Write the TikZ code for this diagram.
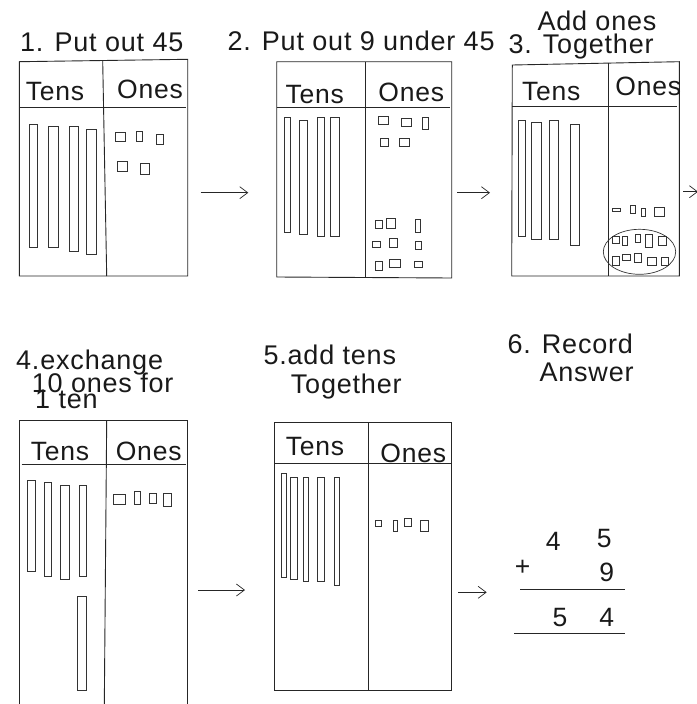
\documentclass[tikz,border=0pt]{standalone}
\usepackage{fontspec}
\setmainfont{Liberation Sans}[LetterSpace=3]
\usetikzlibrary{arrows.meta}

\begin{document}
\begin{tikzpicture}[x=1pt,y=-1pt,
  frame/.style={draw=black!85, line width=0.9pt},
  piece/.style={draw=black!80, line width=0.7pt},
  lbl/.style={font=\fontsize{27}{29}\selectfont, text=black!90, inner sep=0pt, anchor=base west},
  hdr/.style={font=\fontsize{26.5}{28}\selectfont, text=black!90, inner sep=0pt, anchor=base},
  conn/.style={draw=black!85, line width=0.7pt, -{Straight Barb[length=8pt,width=12pt,line width=0.7pt]}}]
\useasboundingbox (0,0) rectangle (696,704);

% ---------- 1. Put out 45 ----------
\node[lbl] (t1) at (20,51.7) {1. Put out 45};
\draw[frame] (19.3,61.7) -- (187.7,59.3) -- (187.7,276) -- (19.3,276) -- cycle;
\draw[frame] (102.7,61) -- (106.7,276);
\draw[frame] (19.3,107.3) -- (186,107.3);
\node[hdr] (h1t) at (55,100) {Tens};
\node[hdr] (h1o) at (150,98) {Ones};
\foreach \a/\b/\c/\d in {29.3/124.3/37.7/247.3, 48.7/126/58.3/247.3, 69/126/78/251.7, 86.3/129/96.3/254.3}
  \draw[piece] (\a,\b) rectangle (\c,\d);
\foreach \a/\b/\c/\d in {115.7/132.3/125/141.7, 136/131.7/142.3/141.7, 156.7/134/163.3/144.7,
                         117.3/161.7/127.3/171.7, 140/163.3/149/174}
  \draw[piece] (\a,\b) rectangle (\c,\d);

% ---------- 2. Put out 9 under 45 ----------
\node[lbl] (t2) at (227.3,50) {2. Put out 9 under 45};
\draw[frame] (276.7,61.7) -- (451.7,61.7) -- (451.7,278) -- (276.7,277) -- cycle;
\draw[frame] (365.7,61.7) -- (365.7,277.5);
\draw[frame] (276.7,107.3) -- (449.5,107.3);
\node[hdr] (h2t) at (314.7,103.3) {Tens};
\node[hdr] (h2o) at (411.3,101) {Ones};
\foreach \a/\b/\c/\d in {284/117.3/290.7/232.3, 299/120/307.7/234.3, 317.3/117.3/324/236.7, 330.7/117.3/339.3/236.7}
  \draw[piece] (\a,\b) rectangle (\c,\d);
\foreach \a/\b/\c/\d in {378.3/116/388.3/124, 401.7/118.3/411/126.7, 422.7/117.7/428.3/129.3,
                         380/138.3/388.3/146.7, 399.3/138.3/409.3/146.7,
                         375.7/220.7/382.3/228.3, 386.7/218.3/395/228.3, 415.7/219/420/232.3,
                         372.7/241/380/247.7, 389.3/238.3/397.3/247.7, 415.7/241/421.7/249.3,
                         375.7/261.7/382.3/270, 389/259/400/267.7, 414/261.7/422.3/267.3}
  \draw[piece] (\a,\b) rectangle (\c,\d);

% ---------- 3. Add ones Together ----------
\node[lbl] (t3a) at (537.3,30.7) {Add ones};
\node[lbl] (t3b) at (508.3,53.3) {3. Together};
\draw[frame] (512.3,65) -- (679.3,61.7) -- (679.3,276) -- (511.7,276) -- cycle;
\draw[frame] (608.3,62.5) -- (608.3,276);
\draw[frame] (512,106.7) -- (677,106.7);
\node[hdr] (h3t) at (551.3,100) {Tens};
\node[hdr] (h3o) at (648.3,95.7) {Ones};
\foreach \a/\b/\c/\d in {518.3/120/525/236.7, 531/122.3/541/239, 549.3/120/558.3/239, 570/124.3/579/245.7}
  \draw[piece] (\a,\b) rectangle (\c,\d);
\foreach \a/\b/\c/\d in {612.7/208.3/620.7/211.7, 630.7/205.7/635.7/213.3, 641/208.3/645.7/216, 654/207.7/664/216,
                         612.3/236.7/619/243.3, 622.7/236.7/627.3/245, 635/234.3/640/242.7,
                         645.7/234.3/652.3/247.3, 658.3/236.7/666.7/245,
                         612.3/256.7/619/265.7, 622.7/254/630.7/260.7, 634.3/253.3/641.7/262.7,
                         647.7/257.3/656.7/265.7, 661.7/257.3/668.3/265.7}
  \draw[piece] (\a,\b) rectangle (\c,\d);
\draw[piece] (639.5,251.8) ellipse [x radius=36.2pt, y radius=22.5pt];

% ---------- 4. exchange 10 ones for 1 ten ----------
\node[lbl] (t4a) at (16,369) {4.exchange};
\node[lbl] (t4b) at (31.7,392.7) {10 ones for};
\node[lbl] (t4c) at (35,408.3) {1 ten};
\draw[frame] (19.3,706) -- (19.3,420) -- (187.7,420) -- (187.7,706);
\draw[frame] (106.7,420) -- (104.3,706);
\draw[frame] (21.7,464.3) -- (185.7,464.3);
\node[hdr] (h4t) at (60,460) {Tens};
\node[hdr] (h4o) at (148.7,460) {Ones};
\foreach \a/\b/\c/\d in {27.3/480.7/35.7/571.7, 44.3/482.7/51/576.7, 60.7/485/69.3/579, 79.3/485/86.7/576.7,
                         77.7/596/86.7/690}
  \draw[piece] (\a,\b) rectangle (\c,\d);
\foreach \a/\b/\c/\d in {113.3/494/125/504, 134/491/140/504, 149/493.3/156.7/503.3, 163.3/493.3/171.7/506}
  \draw[piece] (\a,\b) rectangle (\c,\d);

% ---------- 5. add tens Together ----------
\node[lbl] (t5a) at (263.3,364.3) {5.add tens};
\node[lbl] (t5b) at (290.7,393.3) {Together};
\draw[frame] (274,422.3) -- (451,422.3) -- (451,690) -- (274,690) -- cycle;
\draw[frame] (368.3,422.3) -- (368.3,690);
\draw[frame] (275,463.3) -- (451,463.3);
\node[hdr] (h5t) at (315,455) {Tens};
\node[hdr] (h5o) at (413.3,462) {Ones};
\foreach \a/\b/\c/\d in {281.7/473.3/286.7/577.3, 290/477.3/297.3/579.3, 303.3/477.3/308.3/581.7,
                         317.7/477.3/324.3/581.7, 334.3/477.3/339.3/585.7}
  \draw[piece] (\a,\b) rectangle (\c,\d);
\foreach \a/\b/\c/\d in {375.7/520.7/381.7/526.7, 393.3/520/397.3/531, 404/518.3/411.7/526.7, 420/520/428.3/531}
  \draw[piece] (\a,\b) rectangle (\c,\d);

% ---------- 6. Record Answer ----------
\node[lbl] (t6a) at (507.3,353.3) {6. Record};
\node[lbl] (t6b) at (539.3,381.7) {Answer};
\node[hdr] (n4) at (553.3,550) {4};
\node[hdr] (n5) at (604.3,547.7) {5};
\node[hdr] (plus) at (522.5,575) {+};
\node[hdr] (n9) at (606.7,581.7) {9};
\node[hdr] (r5) at (560,626.7) {5};
\node[hdr] (r4) at (606.7,626.7) {4};
\coordinate (s1a) at (520,589.3);
\coordinate (s1b) at (625,589.3);
\coordinate (s2a) at (514,633.3);
\coordinate (s2b) at (625,633.3);
\draw[frame] (s1a) -- (s1b);
\draw[frame] (s2a) -- (s2b);

% ---------- arrows between the steps ----------
\coordinate (a1s) at (200.7,192.7);  \coordinate (a1e) at (248.3,192.7);
\coordinate (a2s) at (457.3,192.7);  \coordinate (a2e) at (490,192.7);
\coordinate (a3s) at (683.3,191.7);  \coordinate (a3e) at (698,191.7);
\coordinate (a4s) at (198.3,590);    \coordinate (a4e) at (245,590);
\coordinate (a5s) at (458.3,592.3);  \coordinate (a5e) at (486.7,592.3);
\draw[conn] (a1s) -- (a1e);
\draw[conn] (a2s) -- (a2e);
\draw[conn] (a3s) -- (a3e);
\draw[conn] (a4s) -- (a4e);
\draw[conn] (a5s) -- (a5e);
\end{tikzpicture}
\end{document}
